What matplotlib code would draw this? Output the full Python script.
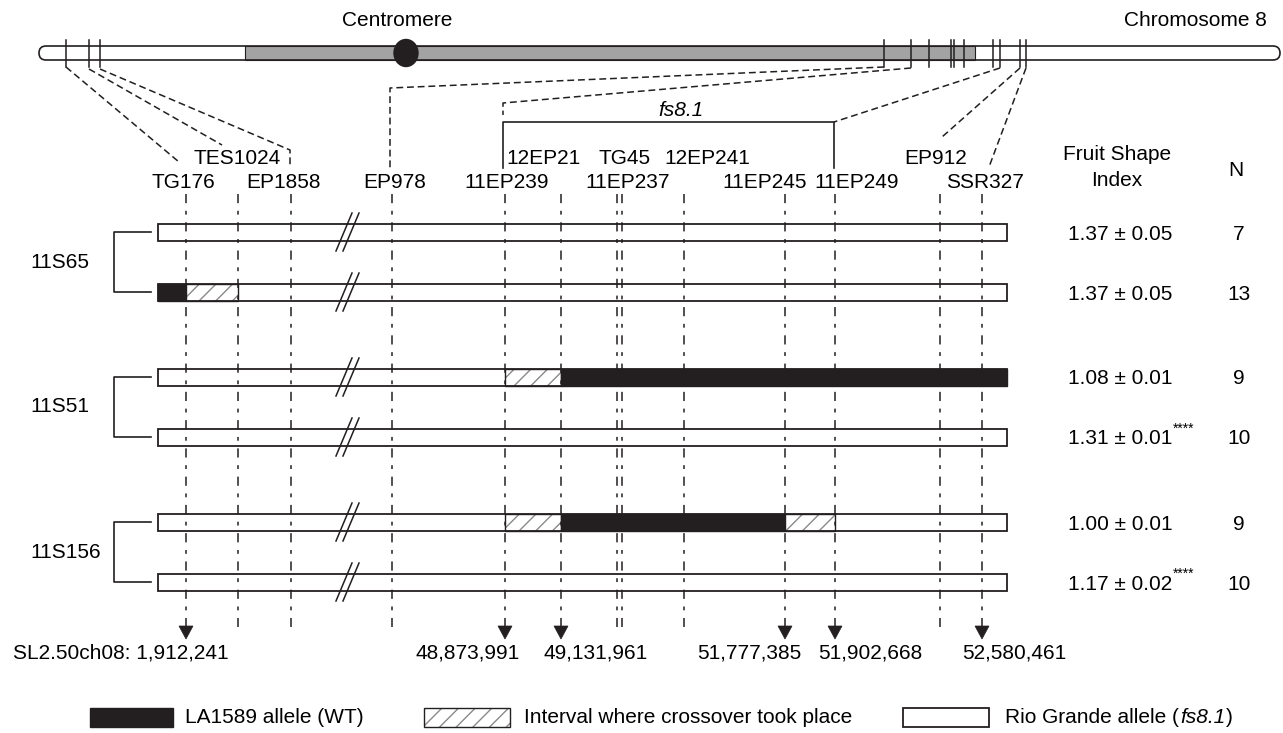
import matplotlib.pyplot as plt
from matplotlib.patches import Rectangle, FancyBboxPatch, Ellipse, Polygon

plt.rcParams["font.family"] = ["Liberation Sans", "DejaVu Sans"]

# --------------------------------------------------------------------------- #
# Data
# --------------------------------------------------------------------------- #
MARKERS = ["TG176", "TES1024", "EP1858", "EP978", "11EP239", "12EP21", "TG45",
           "11EP237", "12EP241", "11EP245", "11EP249", "EP912", "SSR327"]

LINES = ["11S65", "11S51", "11S156"]

# one row per genotype class (two per line)
FSI_MEAN = [1.37, 1.37, 1.08, 1.31, 1.00, 1.17]
FSI_SE = [0.05, 0.05, 0.01, 0.01, 0.01, 0.02]
FSI_SIG = ["", "", "", "****", "", "****"]
N_PLANTS = [7, 13, 9, 10, 9, 10]

# genotype segments: (from marker, to marker, allele); None = bar end
SEGMENTS = [
    [],
    [(None, "TG176", "wt"), ("TG176", "TES1024", "x")],
    [("11EP239", "12EP21", "x"), ("12EP21", None, "wt")],
    [],
    [("11EP239", "12EP21", "x"), ("12EP21", "11EP245", "wt"),
     ("11EP245", "11EP249", "x")],
    [],
]

# physical positions (SL2.50 ch08) of markers bounding the crossovers
POS_MARKERS = ["TG176", "11EP239", "12EP21", "11EP245", "11EP249", "SSR327"]
POS_LABELS = ["SL2.50ch08: 1,912,241", "48,873,991", "49,131,961",
              "51,777,385", "51,902,668", "52,580,461"]

# --------------------------------------------------------------------------- #
# Layout (pixel space of the figure)
# --------------------------------------------------------------------------- #
MX = dict(zip(MARKERS, [186, 238, 291, 392, 505, 561, 617, 622, 684, 785,
                        835, 940, 982]))
LABEL_POS = {  # (x, y) of marker names
    "TES1024": (237, 159), "12EP21": (543, 159), "TG45": (625, 159),
    "12EP241": (707, 159), "EP912": (936, 159),
    "TG176": (183, 183), "EP1858": (283, 183), "EP978": (395, 183),
    "11EP239": (507, 183), "11EP237": (628, 183), "11EP245": (765, 183),
    "11EP249": (857, 183), "SSR327": (985, 183),
}
POS_TEXT = [(229, "right"), (520, "right"), (543, "left"), (801, "right"),
            (818, "left"), (962, "left")]

BAR_L, BAR_R, BAR_H = 158, 1007, 17
BAR_Y = [232, 292, 377, 437, 522, 582]
CHR_TICKS = [66, 89, 100, 884, 911, 929, 951, 954, 964, 993, 1000, 1020, 1026]

FS = 15
INK = "#231f20"
DASH = (0, (4.5, 2.5))
DASHDOT = (0, (6, 5, 2.5, 5))

fig = plt.figure(figsize=(12.83, 7.33), dpi=100)
ax = fig.add_axes([0, 0, 1, 1])
ax.set_xlim(0, 1283)
ax.set_ylim(733, 0)
ax.set_aspect("equal")
ax.axis("off")

# ---- chromosome ------------------------------------------------------------
cy, ch = 53, 14
ax.add_patch(FancyBboxPatch((39, cy - ch / 2), 1241, ch,
                            boxstyle="round,pad=0,rounding_size=7",
                            fc="white", ec="none", zorder=1))
ax.add_patch(Rectangle((245, cy - ch / 2), 975 - 245, ch, fc="#a3a3a3",
                       ec=INK, lw=0.8, zorder=2))
ax.add_patch(FancyBboxPatch((39, cy - ch / 2), 1241, ch,
                            boxstyle="round,pad=0,rounding_size=7",
                            fc="none", ec=INK, lw=1.2, zorder=3))
ax.add_patch(Ellipse((406, cy), 24, 27, fc=INK, ec=INK, zorder=4))
for x in CHR_TICKS:
    ax.plot([x, x], [40, 67], color=INK, lw=1.1, zorder=4)
ax.text(397, 20, "Centromere", fontsize=FS, ha="center", va="center")
ax.text(1267, 20, "Chromosome 8", fontsize=FS, ha="right", va="center")

# ---- connectors from chromosome to marker names ------------------------------
connectors = [
    [(66, 67), (179, 162)],
    [(89, 69), (222, 145)],
    [(100, 69), (290, 150), (290, 168)],
    [(884, 67), (390, 88), (390, 168)],
    [(911, 68), (503, 103), (503, 115)],
    [(1000, 68), (834, 122)],
    [(1020, 68), (942, 137)],
    [(1026, 68), (989, 167)],
]
for pts in connectors:
    xs, ys = zip(*pts)
    ax.plot(xs, ys, color=INK, lw=1.1, ls=DASH)

# fs8.1 interval
ax.plot([503, 503, 834, 834], [168, 122, 122, 168], color=INK, lw=1.2)
ax.text(681, 110, "fs8.1", fontsize=FS, style="italic", ha="center",
        va="center")

for name, (x, y) in LABEL_POS.items():
    ax.text(x, y, name, fontsize=FS, ha="center", va="center")

ax.text(1117, 155, "Fruit Shape", fontsize=FS, ha="center", va="center")
ax.text(1117, 180, "Index", fontsize=FS, ha="center", va="center")
ax.text(1236, 170, "N", fontsize=FS, ha="center", va="center")

# ---- genotype bars ---------------------------------------------------------
def seg_x(m, default):
    return default if m is None else MX[m]


for yc, segs in zip(BAR_Y, SEGMENTS):
    y0 = yc - BAR_H / 2
    ax.add_patch(Rectangle((BAR_L, y0), BAR_R - BAR_L, BAR_H, fc="white",
                           ec="none", zorder=2))
    for a, b, kind in segs:
        xa, xb = seg_x(a, BAR_L), seg_x(b, BAR_R)
        if kind == "wt":
            ax.add_patch(Rectangle((xa, y0), xb - xa, BAR_H, fc=INK,
                                   ec=INK, lw=1.0, zorder=3))
        else:
            ax.add_patch(Rectangle((xa, y0), xb - xa, BAR_H, fc="white",
                                   ec="#8a8a8a", lw=0, hatch="//",
                                   zorder=3))
            ax.add_patch(Rectangle((xa, y0), xb - xa, BAR_H, fc="none",
                                   ec=INK, lw=1.0, zorder=4))
    ax.add_patch(Rectangle((BAR_L, y0), BAR_R - BAR_L, BAR_H, fc="none",
                           ec=INK, lw=1.3, zorder=5))
    # break mark
    for dx in (0, 7):
        bx = 344 + dx
        ax.plot([bx - 8, bx + 8], [yc + 19, yc - 19], color=INK, lw=1.1,
                zorder=6)

# line brackets
for i, name in enumerate(LINES):
    ya, yb = BAR_Y[2 * i], BAR_Y[2 * i + 1]
    ax.plot([151, 114, 114, 151], [ya, ya, yb, yb], color=INK, lw=1.2)
    ax.text(30, (ya + yb) / 2, name, fontsize=FS, ha="left", va="center")

# FSI and N columns
for yc, m, se, sig, n in zip(BAR_Y, FSI_MEAN, FSI_SE, FSI_SIG, N_PLANTS):
    ax.text(1068, yc + 2, f"{m:.2f} \u00b1 {se:.2f}", fontsize=FS,
            ha="left", va="center")
    if sig:
        ax.text(1173, yc - 8, sig, fontsize=10, ha="left", va="center")
    ax.text(1239, yc + 2, str(n), fontsize=FS, ha="center", va="center")

# ---- vertical marker lines and physical positions ----------------------------
for name in MARKERS:
    x = MX[name]
    ax.plot([x, x], [194, 627], color=INK, lw=1.1, ls=DASHDOT, zorder=7)

for name, label, (tx, ha) in zip(POS_MARKERS, POS_LABELS, POS_TEXT):
    x = MX[name]
    ax.add_patch(Polygon([(x - 7, 626), (x + 7, 626), (x, 639)], closed=True,
                         fc=INK, ec=INK, lw=0.5, zorder=8))
    ax.text(tx, 653, label, fontsize=FS, ha=ha, va="center")

# ---- legend ----------------------------------------------------------------
ly, lh = 708, 19
ax.add_patch(Rectangle((90, ly), 83, lh, fc=INK, ec=INK, lw=1.0))
ax.text(185, ly + lh / 2, "LA1589 allele (WT)", fontsize=FS, ha="left",
        va="center")
ax.add_patch(Rectangle((424, ly), 86, lh, fc="white", ec="#8a8a8a", lw=0,
                       hatch="//"))
ax.add_patch(Rectangle((424, ly), 86, lh, fc="none", ec=INK, lw=1.0))
ax.text(524, ly + lh / 2, "Interval where crossover took place", fontsize=FS,
        ha="left", va="center")
ax.add_patch(Rectangle((903, ly), 86, lh, fc="white", ec=INK, lw=1.3))

# "Rio Grande allele (fs8.1)" with the locus name in italics
renderer = fig.canvas.get_renderer()
x_cur = 1005
for part, style in [("Rio Grande allele (", "normal"), ("fs8.1", "italic"),
                    (")", "normal")]:
    t = ax.text(x_cur, ly + lh / 2, part, fontsize=FS, style=style,
                ha="left", va="center")
    bb = t.get_window_extent(renderer)
    x_cur = ax.transData.inverted().transform((bb.x1, bb.y0))[0] + 1

fig.savefig("out.png", dpi=100)
